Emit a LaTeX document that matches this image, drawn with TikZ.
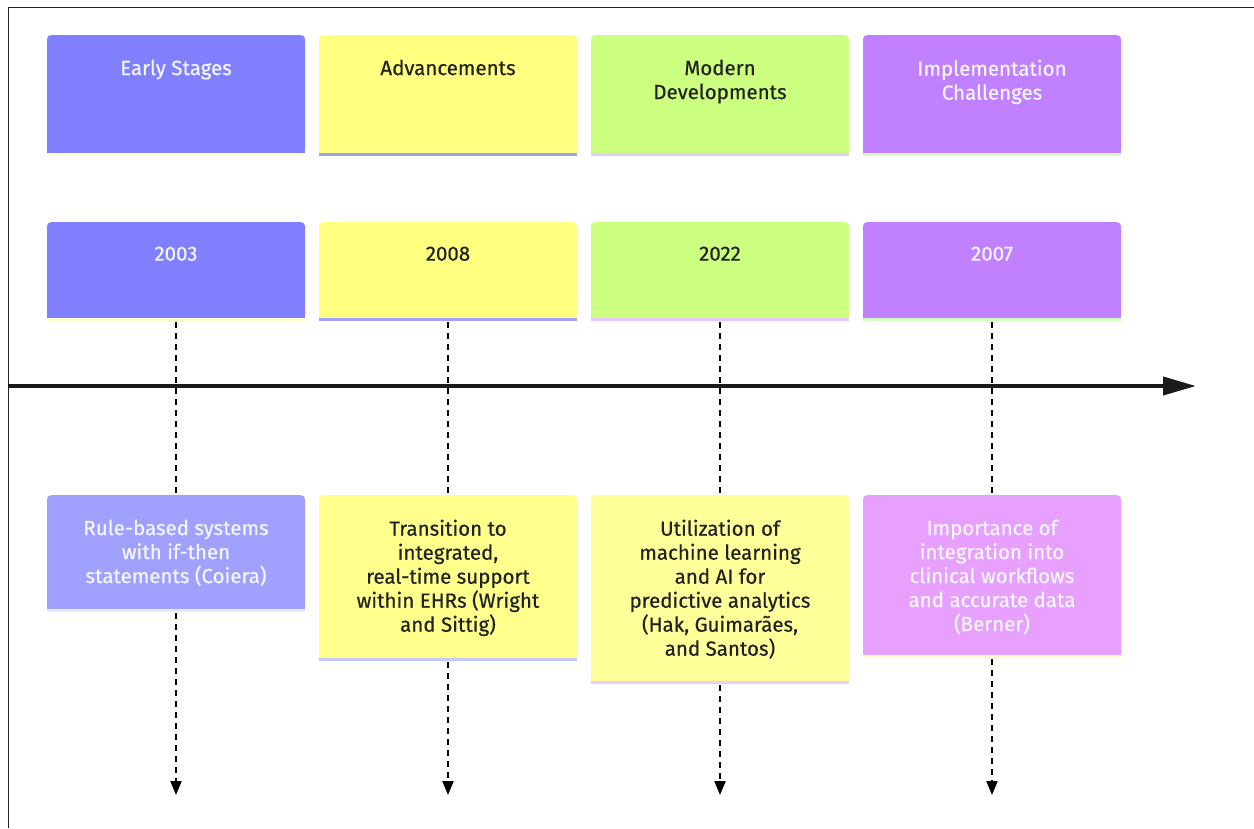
\documentclass[tikz,border=0pt]{standalone}
\usepackage{fontspec}
\setmainfont{Fira Sans}
\newfontfamily\cardfont{Fira Sans}[FakeBold=0.5]
\usetikzlibrary{arrows.meta}

\definecolor{frameclr}{HTML}{222222}
\definecolor{axisclr}{HTML}{1A1A1A}
% section colours: header/year, event, and the thin under-stripes
\definecolor{secA}{HTML}{8080FF}
\definecolor{secAev}{HTML}{A0A0FF}
\definecolor{secB}{HTML}{FFFF80}
\definecolor{secBev}{HTML}{FFFF8C}
\definecolor{secC}{HTML}{CCFF80}
\definecolor{secCev}{HTML}{FFFF99}
\definecolor{secD}{HTML}{C080FF}
\definecolor{secDev}{HTML}{E8A0FF}
\definecolor{stripeA}{HTML}{FFFFC8}
\definecolor{stripeB}{HTML}{A0A0FF}
\definecolor{stripeC}{HTML}{E6C8FF}
\definecolor{stripeD}{HTML}{D4FFC0}
\definecolor{stripeBev}{HTML}{C8C8FF}
\definecolor{stripeCev}{HTML}{F0C8FF}
\definecolor{stripeAev}{HTML}{E8E8FF}
\definecolor{darktext}{HTML}{222222}
\definecolor{lighttext}{HTML}{F6F6FF}

\tikzset{
  card/.style={rectangle, rounded corners=4pt, minimum width=258pt,
    inner sep=0pt, draw=none, anchor=north},
  cardtext/.style={inner sep=0pt, align=center, anchor=north,
    font=\cardfont\fontsize{20.5}{24}\selectfont},
  tick/.style={draw=black, line width=2pt, dash pattern=on 6pt off 5pt},
  tickend/.style={tick, -{Triangle[length=14pt,width=11pt]}},
}

% \tlcard{name}{x}{top}{height}{fill}{stripe}{text colour}{text}
\newcommand\tlcard[8]{%
  \node[card, fill=#5, minimum height=#4] (#1) at (#2,#3) {};
  \fill[#5] ([yshift=6pt]#1.south west) rectangle (#1.south east);
  \fill[#6] (#1.south west) rectangle ([yshift=-3pt]#1.south east);
  \node[cardtext, text=#7] (#1t) at ([yshift=-24.5pt]#1.north) {#8};
}

\begin{document}
\begin{tikzpicture}[x=1pt,y=-1pt]
  \useasboundingbox[fill=white] (0,0) rectangle (1254,828);

  % frame lines along top and left edges
  \coordinate (frBL) at (8.5,828);
  \coordinate (frTL) at (8.5,7.5);
  \coordinate (frTR) at (1254,7.5);
  \draw[frameclr, line width=1.5pt] (frBL) -- (frTL) -- (frTR);

  % section headers
  \tlcard{h1}{176}{35}{118}{secA}{stripeA}{lighttext}{Early Stages}
  \tlcard{h2}{448}{35}{118}{secB}{stripeB}{darktext}{Advancements}
  \tlcard{h3}{720}{35}{118}{secC}{stripeC}{darktext}{Modern\\Developments}
  \tlcard{h4}{992}{35}{118}{secD}{stripeD}{lighttext}{Implementation\\Challenges}

  % period boxes
  \tlcard{y1}{176}{222}{96}{secA}{stripeA}{lighttext}{2003}
  \tlcard{y2}{448}{222}{96}{secB}{stripeB}{darktext}{2008}
  \tlcard{y3}{720}{222}{96}{secC}{stripeC}{darktext}{2022}
  \tlcard{y4}{992}{222}{96}{secD}{stripeD}{lighttext}{2007}

  % event boxes
  \tlcard{e1}{176}{495}{114}{secAev}{stripeAev}{lighttext}{Rule-based systems\\with if-then\\statements (Coiera)}
  \tlcard{e2}{448}{495}{163}{secBev}{stripeBev}{darktext}{Transition to\\integrated,\\real-time support\\within EHRs (Wright\\and Sittig)}
  \tlcard{e3}{720}{495}{186}{secCev}{stripeCev}{darktext}{Utilization of\\machine learning\\and AI for\\predictive analytics\\(Hak, Guimarães,\\and Santos)}
  \tlcard{e4}{992}{495}{160}{secDev}{stripeA}{lighttext}{Importance of\\integration into\\clinical workflows\\and accurate data\\(Berner)}

  % time axis
  \coordinate (axL) at (8,386);
  \coordinate (axR) at (1196,386);
  \draw[axisclr, line width=4pt, -{Triangle[length=33pt,width=18pt]}] (axL) -- (axR);

  % dashed drop lines
  \coordinate (end1) at (176,795);
  \coordinate (end2) at (448,795);
  \coordinate (end3) at (720,795);
  \coordinate (end4) at (992,795);
  \foreach \i in {1,2,3,4}{
    \draw[tick] ([yshift=-4pt]y\i.south) -- (e\i.north);
    \draw[tickend] ([yshift=-4pt]e\i.south) -- (end\i);
  }
\end{tikzpicture}
\end{document}
